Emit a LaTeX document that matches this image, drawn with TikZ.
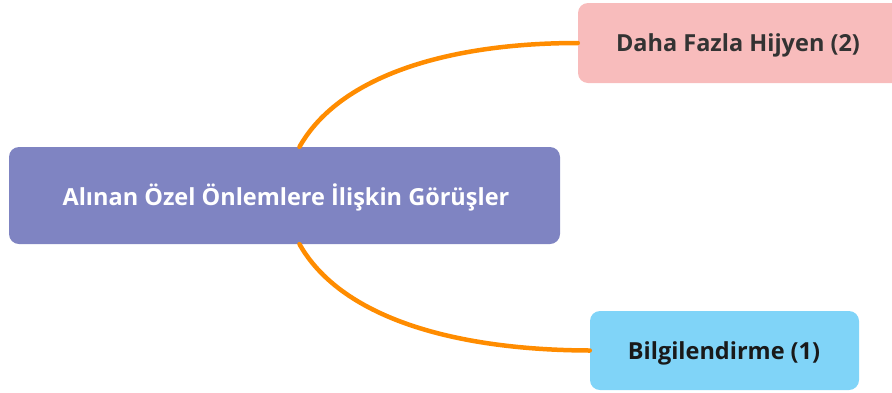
\documentclass[tikz,border=0pt]{standalone}
\usepackage{fontspec}
\setmainfont{Open Sans}
\definecolor{centerc}{HTML}{7F84C2}
\definecolor{pinkc}{HTML}{F8BCBC}
\definecolor{bluec}{HTML}{80D4F8}
\definecolor{linec}{HTML}{FF8C00}
\definecolor{txtdark}{HTML}{333333}
\tikzset{
  box/.style={rounded corners=10pt, inner sep=0pt, draw=none},
  lbl/.style={font=\bfseries\fontsize{23.5}{28}\selectfont, inner sep=0pt},
  link/.style={draw=linec, line width=4.5pt, line cap=round},
}
\begin{document}
\begin{tikzpicture}[x=1pt,y=-1pt]
\useasboundingbox (0,0) rectangle (892,392);
\node[box, fill=centerc, minimum width=551pt, minimum height=97pt] (cbox) at (284.5,195.5) {};
\node[box, fill=pinkc, minimum width=340pt, minimum height=80pt] (pbox) at (748,43) {};
\node[box, fill=bluec, minimum width=269pt, minimum height=79pt] (bbox) at (724.5,350.5) {};
\node[lbl, text=white] (c) at (286,197) {Alınan Özel Önlemlere İlişkin Görüşler};
\node[lbl, text=txtdark] (p) at (738,45) {Daha Fazla Hijyen (2)};
\node[lbl, text=black!90] (b) at (724,353) {Bilgilendirme (1)};
\coordinate (ct) at ([xshift=15pt]cbox.north);
\coordinate (cb) at ([xshift=15pt]cbox.south);
\draw[link] (ct) .. controls (340,75) and (450,43) .. (pbox.west);
\draw[link] (cb) .. controls (340,316) and (450,350) .. (bbox.west);
\end{tikzpicture}
\end{document}
